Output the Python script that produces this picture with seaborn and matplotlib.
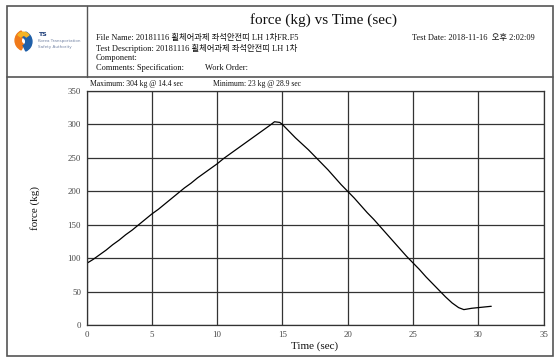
import matplotlib
matplotlib.use("Agg")
import matplotlib.pyplot as plt
from matplotlib.patches import Rectangle, Wedge
from matplotlib.lines import Line2D
import seaborn as sns
import pandas as pd

# ---- data ----
time_sec = [0, 0.5, 1, 1.5, 2, 2.5, 3, 3.5, 4, 4.5, 5, 5.5, 6, 6.5, 7, 7.5, 8, 8.5,
            9, 9.5, 10, 10.5, 11, 11.5, 12, 12.5, 13, 13.5, 14, 14.4, 14.8, 15,
            15.5, 16, 16.5, 17, 17.5, 18, 18.5, 19, 19.5, 20, 20.5, 21, 21.5, 22,
            22.5, 23, 23.5, 24, 24.5, 25, 25.5, 26, 26.5, 27, 27.5, 28, 28.5, 28.9,
            29.5, 30, 30.5, 31]
force_kg = [92, 98, 105, 112, 120, 127, 135, 142, 150, 158, 166, 173, 181, 189, 197,
            205, 212, 220, 227, 234, 241, 249, 256, 263, 270, 277, 284, 291, 298, 304,
            303, 300, 290, 280, 271, 262, 252, 242, 232, 221, 210, 200, 190, 179, 168,
            158, 147, 136, 125, 114, 103, 93, 83, 72, 62, 52, 42, 33, 26, 23,
            25, 26, 27, 28]
x_ticks = [0, 5, 10, 15, 20, 25, 30, 35]
y_ticks = [0, 50, 100, 150, 200, 250, 300, 350]

title = "force (kg) vs Time (sec)"
header_lines = ["File Name: 20181116 휠체어과제 좌석안전띠 LH 1차FR.F5",
                "Test Description: 20181116 휠체어과제 좌석안전띠 LH 1차",
                "Component:",
                "Comments: Specification:"]
work_order = "Work Order:"
test_date = "Test Date: 2018-11-16  오후 2:02:09"
max_text = "Maximum: 304 kg @ 14.4 sec"
min_text = "Minimum: 23 kg @ 28.9 sec"

sns.set_theme(style="white")
plt.rcParams['font.family'] = ['Liberation Serif', 'Noto Sans CJK KR', 'DejaVu Sans']

W, H = 557, 358
fig = plt.figure(figsize=(W / 100, H / 100), dpi=100)

def fx(px):
    return px / W

def fy(py):
    return 1 - py / H

# frame
fig.patches.append(Rectangle((fx(7), fy(356)), fx(553) - fx(7), fy(6) - fy(356),
                             transform=fig.transFigure, fill=False, ec='#555555', lw=1.2))
fig.lines.append(Line2D([fx(7), fx(553)], [fy(77), fy(77)], transform=fig.transFigure,
                        color='#555555', lw=1.2))
fig.lines.append(Line2D([fx(87), fx(87)], [fy(6), fy(77)], transform=fig.transFigure,
                        color='#555555', lw=1.0))

# logo
lax = fig.add_axes([fx(10), fy(52), fx(27), fy(30) - fy(52)])
lax.set_xlim(-1.2, 1.2); lax.set_ylim(-1, 1); lax.axis('off')
lax.add_patch(Wedge((0.2, 0.05), 0.95, 115, 245, width=0.55, color='#f07a1a'))
lax.add_patch(Wedge((-0.2, -0.05), 0.95, -65, 65, width=0.55, color='#1f5fa8'))
lax.add_patch(Wedge((0.0, 0.2), 0.6, 35, 145, width=0.3, color='#f5b323'))
fig.text(fx(38), fy(34), "TS", fontsize=4.5, fontweight='bold', color='#1f3f7a', va='center',
         family=['DejaVu Sans'])
fig.text(fx(38), fy(41), "Korea Transportation", fontsize=3.0, color='#7585a5', va='center',
         family=['DejaVu Sans'])
fig.text(fx(38), fy(47), "Safety Authority", fontsize=3.0, color='#7585a5', va='center',
         family=['DejaVu Sans'])

# header texts
fig.text(fx(323), fy(20), title, fontsize=11, ha='center', va='center', color='#111111')
ys = [38, 48, 58, 68]
for yy, s in zip(ys, header_lines):
    fig.text(fx(96), fy(yy), s, fontsize=6, va='center', color='#111111')
fig.text(fx(205), fy(68), work_order, fontsize=6, va='center', color='#111111')
fig.text(fx(412), fy(38), test_date, fontsize=6, va='center', color='#111111')

fig.text(fx(90), fy(84), max_text, fontsize=5.5, va='center', color='#111111')
fig.text(fx(213), fy(84), min_text, fontsize=5.5, va='center', color='#111111')

# plot
ax = fig.add_axes([fx(86.5), fy(325), fx(543.5) - fx(86.5), fy(91) - fy(325)])
df = pd.DataFrame({"time": time_sec, "force": force_kg})
sns.lineplot(data=df, x="time", y="force", ax=ax, color='black', lw=0.9,
             estimator=None, sort=False)
ax.set_xlim(0, 35)
ax.set_ylim(0, 350)
ax.set_xticks(x_ticks)
ax.set_yticks(y_ticks)
ax.grid(True, color='#333333', lw=0.9)
for sp in ax.spines.values():
    sp.set_color('#333333')
    sp.set_linewidth(0.9)
ax.tick_params(length=0, labelsize=6.3, colors='#444444', pad=4)
ax.set_xlabel("Time (sec)", fontsize=8, color='#111111', labelpad=2)
ax.set_ylabel("force (kg)", fontsize=8, color='#111111', labelpad=20)

fig.savefig("out.png", dpi=100)
